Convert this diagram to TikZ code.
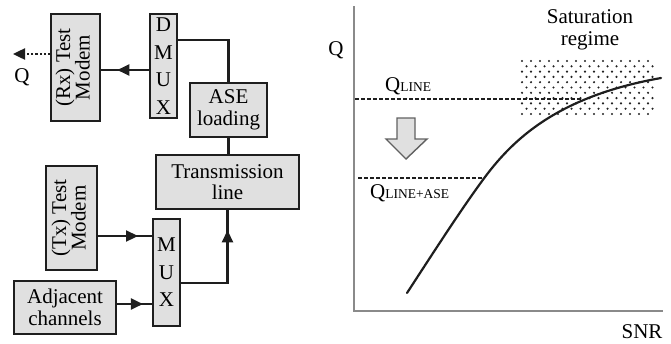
\documentclass[tikz,border=0pt]{standalone}
\usepackage{fontspec}
\setmainfont{Liberation Serif}
\usetikzlibrary{arrows.meta,decorations.markings}
\definecolor{boxgray}{HTML}{E0E0E0}
\definecolor{linec}{HTML}{1E1E1E}
\definecolor{axisgray}{HTML}{8A8A8A}
\definecolor{dotc}{HTML}{222222}
\tikzset{
  box/.style={draw=linec, fill=boxgray, line width=1.8pt, inner sep=0pt, align=center,
    font=\fontsize{21}{21.5}\selectfont},
  letters/.style={box, font=\fontsize{21}{27.5}\selectfont},
  conn/.style={draw=linec, line width=2.2pt},
  midarrow/.style={conn, postaction={decorate}, decoration={markings,
    mark=at position #1 with {\arrow{Triangle[length=12pt,width=11pt]}}}},
  lbl/.style={font=\fontsize{21}{22}\selectfont, inner sep=0pt},
}
\newcommand{\sublbl}[1]{{\fontsize{13.5}{13.5}\selectfont #1}}
\begin{document}
\begin{tikzpicture}[x=1pt,y=-1pt]
\useasboundingbox (0,0) rectangle (671,343);
% ---------- block diagram ----------
\node[box, minimum width=49pt, minimum height=107pt] (rx) at (75.5,67.5)
  {\rotatebox{90}{\begin{tabular}{@{}c@{}}(Rx) Test\\[-2pt]Modem\end{tabular}}};
\node[letters, minimum width=27pt, minimum height=104pt] (dmux) at (163.5,66) {D\\M\\U\\X};
\node[box, minimum width=77pt, minimum height=54pt] (ase) at (228.5,110) {ASE\\loading};
\node[box, minimum width=143pt, minimum height=54pt] (trans) at (227.5,182) {Transmission\\line};
\node[box, minimum width=51pt, minimum height=104pt] (tx) at (71.5,218)
  {\rotatebox{90}{\begin{tabular}{@{}c@{}}(Tx) Test\\[-2pt]Modem\end{tabular}}};
\node[letters, minimum width=27pt, minimum height=107pt] (mux) at (166.5,272.5) {M\\U\\X};
\node[box, minimum width=102pt, minimum height=53pt] (adj) at (65,307.5) {Adjacent\\channels};
\node[lbl] (qout) at (22,77) {Q};
\coordinate (qend) at (13,54);

\draw[conn] ([yshift=-27pt]dmux.north east) -| (ase.north);
\draw[conn] (ase.south) -- (ase.south |- trans.north);
\draw[midarrow=0.66] ([yshift=-4pt]dmux.west) -- ([yshift=-4pt]dmux.west -| rx.east);
\draw[conn, dotted, line width=2.4pt, -{Triangle[length=12pt,width=11pt]}]
  (rx.west |- qend) -- (qend);
\draw[midarrow=0.74] ([yshift=-18pt]tx.east) -- ([yshift=-18pt]tx.east -| mux.west);
\draw[midarrow=0.74] ([yshift=3.5pt]adj.east) -- ([yshift=3.5pt]adj.east -| mux.west);
\draw[midarrow=0.83] ([yshift=-10.5pt]mux.east) -| (trans.south);

% ---------- chart ----------
\foreach \r in {0,...,10}{
  \pgfmathsetmacro{\yy}{61+5.3*\r}
  \pgfmathsetmacro{\xo}{mod(\r,2)*4.5}
  \foreach \c in {0,...,14}{
    \fill[dotc] ({522+\xo+9*\c},\yy) circle (1.2pt);
  }
}
\draw[axisgray, line width=1.5pt] (354,6) -- (354,311) -- (663,311);
\node[lbl] (qax) at (336,50) {Q};
\node[lbl] (snr) at (642,332) {SNR};
\node[lbl, align=center] (sat) at (590,30) {Saturation\\regime};

\coordinate (c1) at (581,99);
\coordinate (c2) at (485,178);
\draw[linec, line width=1.4pt, dash pattern=on 4pt off 2pt] (355,99) -- (c1);
\draw[linec, line width=1.4pt, dash pattern=on 4pt off 2pt] (358,178) -- (c2);
\draw[linec, line width=2.2pt, line cap=round] (407,293) .. controls (435,250) and (462,208) .. (485,177)
  .. controls (515,137) and (560,96) .. (661,78);

\node[lbl, anchor=base west] (ql) at (385,91) {Q\sublbl{LINE}};
\node[lbl, anchor=base west] (qla) at (370,198) {Q\sublbl{LINE+ASE}};

\draw[linec!70, fill=boxgray, line width=1.4pt, line join=miter]
  (397,118) -- (415,118) -- (415,139) -- (427,139) -- (406,159) -- (386,139) -- (397,139) -- cycle;
\end{tikzpicture}
\end{document}
